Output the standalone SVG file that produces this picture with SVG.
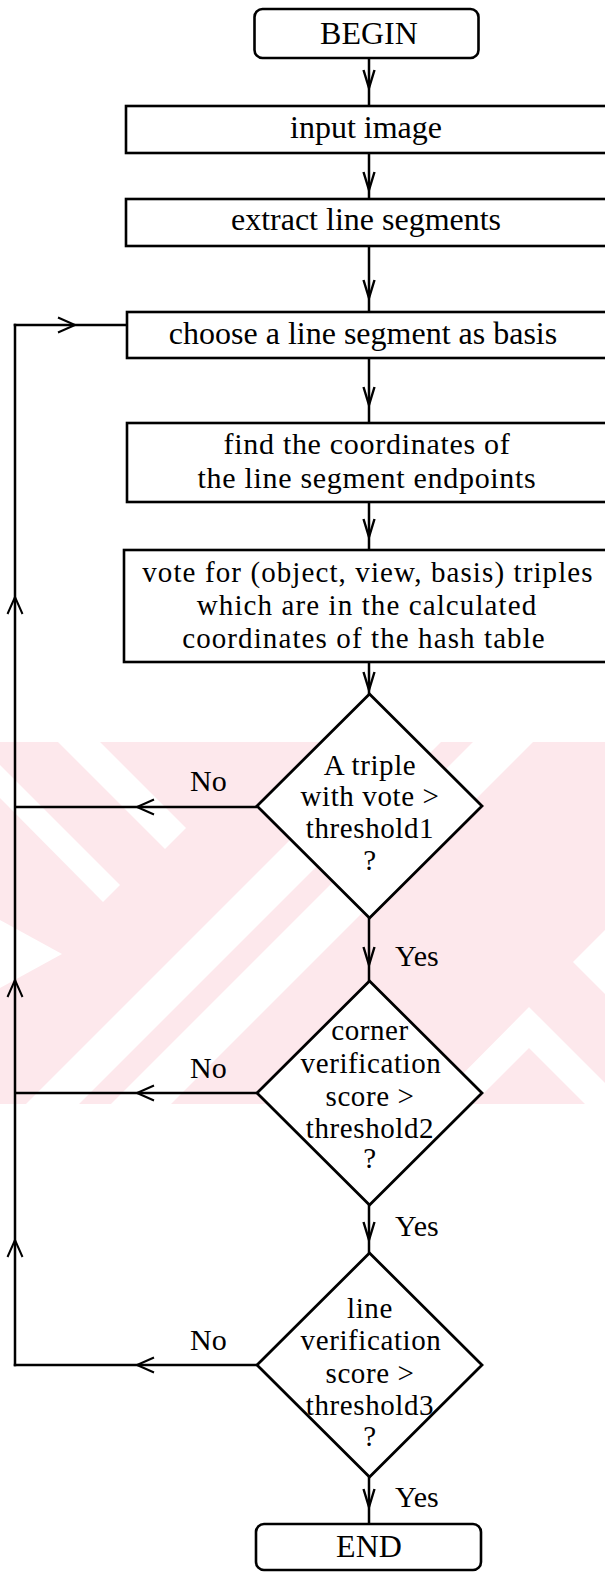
<svg xmlns="http://www.w3.org/2000/svg" width="605" height="1572" viewBox="0 0 605 1572">
<style>
  .t { font-family: "Liberation Serif", "Times New Roman", serif; font-size: 32px; fill: #000; text-anchor: middle; }
  .m { font-family: "Liberation Serif", "Times New Roman", serif; font-size: 30px; letter-spacing: 0.7px; fill: #000; text-anchor: middle; }
  .v { font-family: "Liberation Serif", "Times New Roman", serif; font-size: 29px; letter-spacing: 1.1px; fill: #000; text-anchor: middle; }
  .d { font-family: "Liberation Serif", "Times New Roman", serif; font-size: 29px; letter-spacing: 0.6px; fill: #000; text-anchor: middle; }
  .lbl { font-family: "Liberation Serif", "Times New Roman", serif; font-size: 30px; fill: #000; }
  .box { fill: #fff; stroke: #000; stroke-width: 2.6; }
  .dec { fill: #fff; stroke: #000; stroke-width: 2.8; stroke-linejoin: miter; }
  .ln { fill: none; stroke: #000; stroke-width: 2.5; }
  .lp { fill: none; stroke: #000; stroke-width: 2.5; stroke-linecap: square; }
  .wm { fill: #fde8ec; }
  .ww { fill: #fff; }
</style>
<defs>
  <marker id="ad" viewBox="-20 -10 22 20" markerUnits="userSpaceOnUse" markerWidth="22" markerHeight="20" refX="0" refY="0" orient="auto">
    <path d="M-18,-5.5 L0,0 L-18,5.5" fill="none" stroke="#000" stroke-width="2.4"/>
  </marker>
  <marker id="ao" viewBox="-24 -10 26 20" markerUnits="userSpaceOnUse" markerWidth="26" markerHeight="20" refX="0" refY="0" orient="auto">
    <path d="M-17,-7.5 L0,0 L-17,7.5" fill="none" stroke="#000" stroke-width="2"/>
  </marker>
</defs>
<rect width="605" height="1572" fill="#fff"/>

<g id="watermark">
  <rect class="wm" x="0" y="742" width="605" height="362"/>
  <polygon class="ww" points="58,742 100,742 186,828 165,849"/>
  <polygon class="ww" points="0,765 120,885 103,902 0,798"/>
  <polygon class="ww" points="0,920 62,954 0,988"/>
  <polygon class="ww" points="26,1104 79,1104 441,742 388,742"/>
  <polygon class="ww" points="111,1104 171,1104 533,742 473,742"/>
  <polygon class="ww" points="433,1104 529,1007 605,1083 605,1104 585,1104 529,1048 473,1104"/>
  <polygon class="ww" points="605,930 573,962 605,994"/>
</g>

<g id="connectors">
  <path class="ln" d="M369 58 L369 88 L369 106" marker-mid="url(#ad)"/>
  <path class="ln" d="M369 153 L369 190 L369 199" marker-mid="url(#ad)"/>
  <path class="ln" d="M369 246 L369 298 L369 312" marker-mid="url(#ad)"/>
  <path class="ln" d="M369 358 L369 405 L369 423" marker-mid="url(#ad)"/>
  <path class="ln" d="M369 502 L369 537 L369 550" marker-mid="url(#ad)"/>
  <path class="ln" d="M369 662 L369 690 L369 694" marker-mid="url(#ad)"/>
  <path class="ln" d="M369 918 L369 965 L369 981" marker-mid="url(#ad)"/>
  <path class="ln" d="M369 1205 L369 1240 L369 1253" marker-mid="url(#ad)"/>
  <path class="ln" d="M369 1477 L369 1507 L369 1524" marker-mid="url(#ad)"/>
  <path class="ln" d="M257 807 L137 807 L15 807" marker-mid="url(#ao)"/>
  <path class="ln" d="M257 1093 L137 1093 L15 1093" marker-mid="url(#ao)"/>
  <path class="lp" d="M257 1365 L137 1365 L15 1365" marker-mid="url(#ao)"/>
  <path class="lp" d="M15 1365 L15 1240 L15 980 L15 597 L15 325" marker-mid="url(#ao)"/>
  <path class="lp" d="M15 325 L75 325 L127 325" marker-mid="url(#ao)"/>
</g>

<g id="begin">
  <rect class="box" x="254.5" y="9" width="224" height="49" rx="8"/>
  <text class="t" x="369" y="44">BEGIN</text>
</g>
<g id="input-image">
  <rect class="box" x="126" y="106" width="490" height="47"/>
  <text class="t" x="366" y="138">input image</text>
</g>
<g id="extract">
  <rect class="box" x="126" y="199" width="490" height="47"/>
  <text class="t" x="366" y="230">extract line segments</text>
</g>
<g id="choose">
  <rect class="box" x="127" y="312" width="490" height="46"/>
  <text class="t" x="363" y="344">choose a line segment as basis</text>
</g>
<g id="find">
  <rect class="box" x="127" y="423" width="490" height="79"/>
  <text class="m" x="367" y="454">find the coordinates of</text>
  <text class="m" x="367" y="488">the line segment endpoints</text>
</g>
<g id="vote">
  <rect class="box" x="124" y="550" width="492" height="112"/>
  <text class="v" x="368" y="582">vote for (object, view, basis) triples</text>
  <text class="v" x="367" y="615">which are in the calculated</text>
  <text class="v" x="364" y="648">coordinates of the hash table</text>
</g>
<g id="decision1">
  <polygon class="dec" points="369.5,694 482,806 369.5,918 257,806"/>
  <text class="d" x="370" y="775">A triple</text>
  <text class="d" x="370" y="806">with vote &gt;</text>
  <text class="d" x="370" y="838">threshold1</text>
  <text class="d" x="370" y="870">?</text>
  <text class="lbl" x="190" y="791">No</text>
  <text class="lbl" x="395" y="966">Yes</text>
</g>
<g id="decision2">
  <polygon class="dec" points="369.5,981 482,1093 369.5,1205 257,1093"/>
  <text class="d" x="370" y="1040">corner</text>
  <text class="d" x="371" y="1073">verification</text>
  <text class="d" x="370" y="1106">score &gt;</text>
  <text class="d" x="370" y="1138">threshold2</text>
  <text class="d" x="370" y="1168">?</text>
  <text class="lbl" x="190" y="1078">No</text>
  <text class="lbl" x="395" y="1236">Yes</text>
</g>
<g id="decision3">
  <polygon class="dec" points="369.5,1253 482,1365 369.5,1477 257,1365"/>
  <text class="d" x="370" y="1318">line</text>
  <text class="d" x="371" y="1350">verification</text>
  <text class="d" x="370" y="1383">score &gt;</text>
  <text class="d" x="370" y="1415">threshold3</text>
  <text class="d" x="370" y="1446">?</text>
  <text class="lbl" x="190" y="1350">No</text>
  <text class="lbl" x="395" y="1507">Yes</text>
</g>
<g id="end">
  <rect class="box" x="256" y="1524" width="225" height="46" rx="8"/>
  <text class="t" x="369" y="1557">END</text>
</g>
</svg>
